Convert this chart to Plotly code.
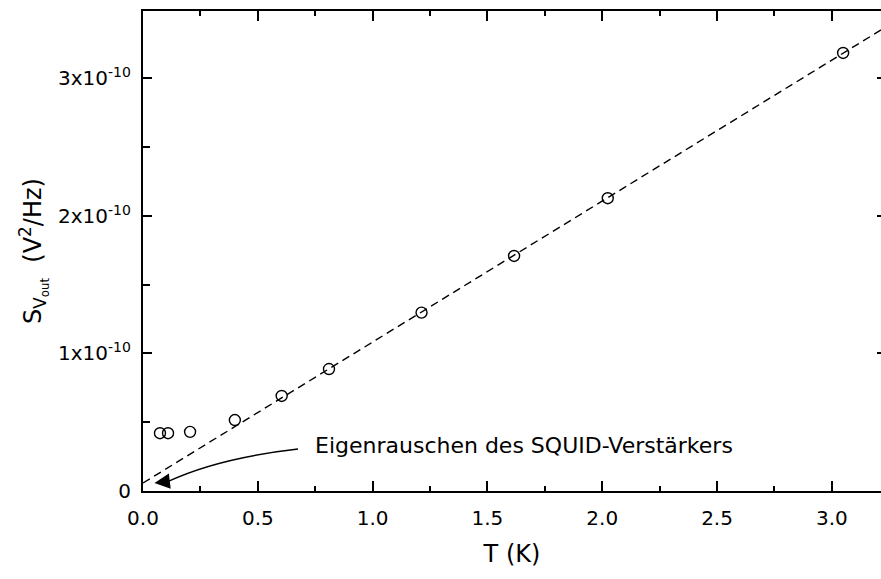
import plotly.graph_objects as go

# Measured noise power vs. temperature (S in units of 1e-10 V^2/Hz)
temperature_K = [0.074, 0.109, 0.205, 0.40, 0.604, 0.810, 1.213, 1.616, 2.024, 3.049]
noise_S = [0.42, 0.42, 0.43, 0.516, 0.691, 0.887, 1.297, 1.709, 2.129, 3.185]

# Linear fit S = a + b*T
fit_intercept = 0.058
fit_slope = 1.025
fit_T = [0.0, 3.3]

x_ticks = [0.0, 0.5, 1.0, 1.5, 2.0, 2.5, 3.0]
x_ticktext = ["0.0", "0.5", "1.0", "1.5", "2.0", "2.5", "3.0"]
y_ticks = [0, 1, 2, 3]
y_ticktext = ["0", "1x10<sup>-10</sup>", "2x10<sup>-10</sup>", "3x10<sup>-10</sup>"]

note_text = "Eigenrauschen des SQUID-Verstärkers"
# curved pointer: start near the label, control point, end near the intercept
pointer_start = (0.675, 0.305)
pointer_ctrl = (0.33, 0.24)
pointer_end = (0.11, 0.07)
pointer_tip = (0.05, 0.058)

FONT = "DejaVu Sans"
x_range = [0, 3.214]
y_range = [0, 3.49]

fig = go.Figure()

fig.add_trace(go.Scatter(
    x=fit_T,
    y=[fit_intercept + fit_slope * t for t in fit_T],
    mode="lines",
    line=dict(color="black", width=1.4, dash="8px,5px"),
    hoverinfo="skip",
    showlegend=False,
))

fig.add_trace(go.Scatter(
    x=temperature_K,
    y=noise_S,
    mode="markers",
    marker=dict(symbol="circle-open", size=11, color="black",
                line=dict(color="black", width=1.4)),
    showlegend=False,
))

# empty trace so the right-hand tick axis is drawn
fig.add_trace(go.Scatter(x=[], y=[], yaxis="y2", showlegend=False))

fig.add_shape(
    type="path",
    xref="x", yref="y",
    path=(f"M {pointer_start[0]},{pointer_start[1]} "
          f"Q {pointer_ctrl[0]},{pointer_ctrl[1]} {pointer_end[0]},{pointer_end[1]}"),
    line=dict(color="black", width=1.4),
)

fig.add_annotation(
    x=pointer_tip[0], y=pointer_tip[1], xref="x", yref="y",
    ax=pointer_end[0], ay=pointer_end[1], axref="x", ayref="y",
    text="", showarrow=True, arrowhead=2, arrowsize=2.2, arrowwidth=1.4,
    arrowcolor="black",
)

fig.add_annotation(
    x=0.74, y=0.33, xref="x", yref="y",
    text=note_text, showarrow=False,
    xanchor="left", yanchor="middle",
    font=dict(family=FONT, size=22, color="black"),
)

axis_font = dict(family=FONT, size=20, color="black")
title_font = dict(family=FONT, size=24, color="black")

fig.update_layout(
    width=881, height=579,
    margin=dict(l=143, r=0, t=11, b=88),
    paper_bgcolor="white", plot_bgcolor="white",
    xaxis=dict(
        range=x_range, tickvals=x_ticks, ticktext=x_ticktext,
        ticks="inside", ticklen=10, tickwidth=2, tickcolor="black",
        minor=dict(dtick=0.25, tick0=0, ticks="inside", ticklen=5,
                   tickwidth=2, tickcolor="black"),
        showline=True, linewidth=2.2, linecolor="black", mirror="ticks",
        showgrid=False, zeroline=False,
        tickfont=axis_font, ticklabelstandoff=8,
        title=dict(text="T (K)", font=title_font, standoff=16),
    ),
    yaxis=dict(
        range=y_range, tickvals=y_ticks, ticktext=y_ticktext,
        ticks="inside", ticklen=9, tickwidth=2, tickcolor="black",
        minor=dict(dtick=0.5, tick0=0, ticks="inside", ticklen=7,
                   tickwidth=2, tickcolor="black"),
        showline=True, linewidth=2.2, linecolor="black", mirror=False,
        showgrid=False, zeroline=False,
        tickfont=axis_font, ticklabelstandoff=6,
        title=dict(text="S<sub>V<sub>out</sub></sub>  (V<sup>2</sup>/Hz)",
                   font=title_font, standoff=10),
    ),
    yaxis2=dict(
        range=y_range, overlaying="y", side="right",
        tickvals=y_ticks, ticks="inside", ticklen=4, tickwidth=2,
        tickcolor="black", showticklabels=False, showline=False,
        showgrid=False, zeroline=False,
    ),
)

fig.write_html("out.html")
